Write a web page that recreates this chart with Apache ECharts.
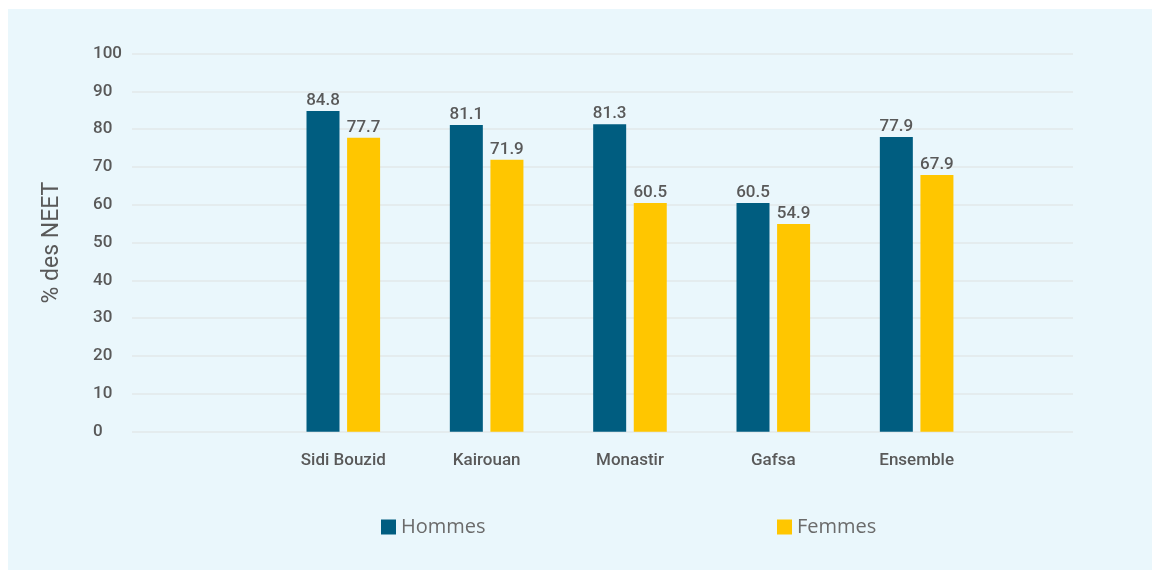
<!DOCTYPE html>
<html>
<head>
<meta charset="utf-8">
<script src="https://cdn.jsdelivr.net/npm/echarts@6/dist/echarts.min.js"></script>
<style>
    html, body { margin: 0; padding: 0; background: #ffffff; }
    #chart_neet {
        position: absolute;
        left: 8px;
        top: 9px;
        width: 1144px;
        height: 561px;
    }
</style>
</head>
<body>
<div id="chart_neet"></div>
<script>
// datos (primera categoria vacia, como en el original)
const categorias = ['', 'Sidi Bouzid', 'Kairouan', 'Monastir', 'Gafsa', 'Ensemble'];
const hommes = [null, 84.8, 81.1, 81.3, 60.5, 77.9];
const femmes = [null, 77.7, 71.9, 60.5, 54.9, 67.9];
const yMin = 0;
const yMax = 100;
const yInterval = 10;

window.renderChartNeet = function () {
    const div = document.getElementById("chart_neet");
    if (!div) return;

    const chart = echarts.init(div);

    const palette = ['#005d80', '#ffc600'];
    const textColor = '#595959';
    const gridColor = '#e2e8ea';

    const option = {
        backgroundColor: '#eaf7fc',
        animation: false,
        color: palette,
        textStyle: { fontFamily: 'Roboto' },
        grid: [
            // rejilla completa (lineas horizontales)
            { left: 124, right: 79, top: 44.5, bottom: 138.3 },
            // barras
            { left: 120.3, width: 860, top: 44.5, bottom: 138.3 }
        ],
        legend: [
            {
                data: ['Hommes'],
                left: 368, top: 503,
                icon: 'rect', itemWidth: 15, itemHeight: 15, itemGap: 6,
                textStyle: { color: '#6b6b6b', fontFamily: 'Open Sans', fontSize: 20 }
            },
            {
                data: ['Femmes'],
                left: 764, top: 503,
                icon: 'rect', itemWidth: 15, itemHeight: 15, itemGap: 6,
                textStyle: { color: '#6b6b6b', fontFamily: 'Open Sans', fontSize: 20 }
            }
        ],
        xAxis: [
            {
                type: 'category', gridIndex: 0, data: [''],
                axisLine: { show: false }, axisTick: { show: false },
                axisLabel: { show: false }
            },
            {
                type: 'category', gridIndex: 1, data: categorias,
                axisLine: { show: false }, axisTick: { show: false },
                axisLabel: {
                    color: textColor, fontSize: 17, fontWeight: 500,
                    margin: 21
                }
            }
        ],
        yAxis: [
            {
                type: 'value', gridIndex: 0,
                min: yMin, max: yMax, interval: yInterval,
                name: '% des NEET',
                nameLocation: 'middle',
                nameGap: 68,
                nameTextStyle: { color: textColor, fontSize: 23 },
                axisLine: { show: false }, axisTick: { show: false },
                axisLabel: {
                    color: textColor, fontSize: 17, fontWeight: 500,
                    align: 'left', margin: 39
                },
                splitLine: { lineStyle: { color: gridColor, width: 1.5 } }
            },
            {
                type: 'value', gridIndex: 1,
                min: yMin, max: yMax, interval: yInterval,
                show: false,
                splitLine: { show: false }
            }
        ],
        series: [
            {
                name: 'Hommes', type: 'bar',
                xAxisIndex: 1, yAxisIndex: 1,
                data: hommes,
                barWidth: 33, barGap: '23%',
                label: {
                    show: true, position: 'top', distance: 2,
                    color: textColor, fontSize: 17, fontWeight: 500
                }
            },
            {
                name: 'Femmes', type: 'bar',
                xAxisIndex: 1, yAxisIndex: 1,
                data: femmes,
                barWidth: 33, barGap: '23%',
                label: {
                    show: true, position: 'top', distance: 2,
                    color: textColor, fontSize: 17, fontWeight: 500
                }
            }
        ]
    };

    chart.setOption(option);
    chart.resize();
};

window.renderChartNeet();
</script>
</body>
</html>
